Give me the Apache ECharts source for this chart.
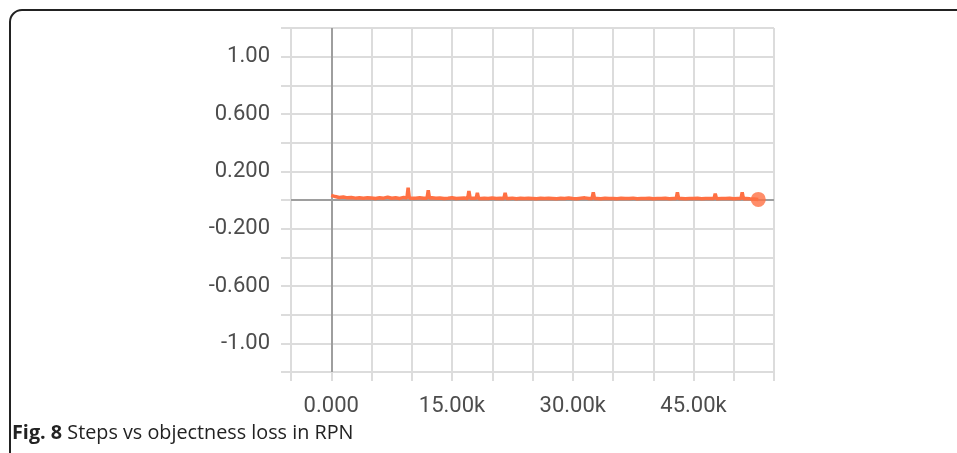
<!DOCTYPE html>
<html>
<head>
<meta charset="utf-8">
<script src="https://cdn.jsdelivr.net/npm/echarts@6/dist/echarts.min.js"></script>
<style>
html,body{margin:0;padding:0;background:#fff;}
#chart{width:957px;height:453px;}
</style>
</head>
<body>
<div id="chart"></div>
<script>
// ---- data ----
var steps = [0,500,1000,1500,2000,2500,3000,3500,4000,4500,5000,5500,6000,6500,7000,7500,8000,8500,9000,9400,9550,9700,10000,10500,11000,11500,11900,12050,12200,12500,13000,13500,14000,14500,15000,15500,16000,16500,16950,17100,17250,17600,18000,18150,18300,18600,19000,19500,20000,20500,21000,21450,21600,21750,22000,22500,23000,23500,24000,24500,25000,25500,26000,26500,27000,27500,28000,28500,29000,29500,30000,30500,31000,31500,32000,32400,32550,32700,33000,33500,34000,34500,35000,35500,36000,36500,37000,37500,38000,38500,39000,39500,40000,40500,41000,41500,42000,42500,42850,43000,43150,43500,44000,44500,45000,45500,46000,46500,47000,47550,47700,47850,48000,48500,49000,49500,50000,50500,50900,51050,51200,51500,52000,52500,53050];
var lossValues = [0.032,0.024,0.018,0.021,0.015,0.017,0.013,0.016,0.012,0.015,0.014,0.011,0.016,0.013,0.020,0.012,0.015,0.011,0.018,0.013,0.085,0.014,0.013,0.012,0.016,0.013,0.012,0.068,0.014,0.015,0.012,0.014,0.011,0.013,0.016,0.010,0.012,0.014,0.011,0.062,0.012,0.013,0.012,0.050,0.011,0.011,0.013,0.010,0.014,0.011,0.012,0.011,0.050,0.011,0.011,0.013,0.009,0.012,0.010,0.013,0.011,0.009,0.012,0.010,0.013,0.011,0.009,0.012,0.010,0.014,0.011,0.009,0.012,0.015,0.010,0.011,0.054,0.010,0.011,0.009,0.012,0.010,0.011,0.009,0.012,0.010,0.011,0.013,0.009,0.011,0.010,0.012,0.009,0.011,0.010,0.012,0.009,0.011,0.010,0.054,0.010,0.010,0.009,0.011,0.010,0.012,0.009,0.010,0.011,0.010,0.044,0.009,0.009,0.011,0.010,0.012,0.009,0.011,0.010,0.054,0.009,0.010,0.008,0.007,0.004];
var xTickValues = [0, 15000, 30000, 45000];
var xTickLabels = ['0.000', '15.00k', '30.00k', '45.00k'];
var yTickValues = [-1.0, -0.6, -0.2, 0.2, 0.6, 1.0];
var yTickLabels = ['-1.00', '-0.600', '-0.200', '0.200', '0.600', '1.00'];
var captionBold = 'Fig. 8';
var captionText = ' Steps vs objectness loss in RPN';

// ---- chart ----
var seriesData = steps.map(function (s, i) { return [s, lossValues[i]]; });
var lastPoint = seriesData[seriesData.length - 1];

function lookup(vals, labels, v) {
  for (var i = 0; i < vals.length; i++) {
    if (Math.abs(vals[i] - v) < 1e-6) return labels[i];
  }
  return '';
}

var gridColor = '#dcdcdc';
var chart = echarts.init(document.getElementById('chart'), null, {renderer: 'canvas'});
chart.setOption({
  animation: false,
  backgroundColor: '#fff',
  grid: {left: 291, right: 183, top: 28, bottom: 81, containLabel: false},
  xAxis: {
    type: 'value', min: -5000, max: 55000, interval: 5000,
    axisLine: {show: false, onZero: false},
    axisTick: {show: true, length: 9, lineStyle: {color: gridColor, width: 2}},
    splitLine: {show: true, lineStyle: {color: gridColor, width: 2}},
    axisLabel: {
      margin: 23, fontSize: 22, color: '#4d4d4d', fontFamily: 'Roboto',
      formatter: function (v) { return lookup(xTickValues, xTickLabels, v); }
    }
  },
  yAxis: {
    type: 'value', min: -1.2, max: 1.2, interval: 0.2,
    axisLine: {show: false, onZero: false},
    axisTick: {show: true, length: 10, lineStyle: {color: gridColor, width: 2}},
    splitLine: {show: true, lineStyle: {color: gridColor, width: 2}},
    axisLabel: {
      margin: 21, fontSize: 22, color: '#4d4d4d', fontFamily: 'Roboto',
      formatter: function (v) { return lookup(yTickValues, yTickLabels, v); }
    }
  },
  series: [
    {
      type: 'line', data: seriesData, showSymbol: false, symbol: 'none', z: 3,
      lineStyle: {color: '#ff7043', width: 3.5},
      markLine: {
        z: 1, silent: true, symbol: ['none', 'none'], label: {show: false},
        lineStyle: {color: '#9e9e9e', type: 'solid', width: 2},
        emphasis: {disabled: true},
        data: [{yAxis: 0}, {xAxis: 0}]
      }
    },
    {
      type: 'scatter', data: [lastPoint], symbol: 'circle', symbolSize: 15, z: 4,
      itemStyle: {color: '#ff7043'}
    }
  ],
  graphic: [
    {
      type: 'rect', shape: {x: 10, y: 10, width: 1000, height: 500, r: [12, 0, 0, 0]},
      style: {fill: 'none', stroke: '#222', lineWidth: 2}, silent: true
    },
    {
      type: 'text', left: 12, top: 423,
      style: {
        rich: {
          b: {fontFamily: 'Open Sans', fontWeight: 'bold', fontSize: 19.8, fill: '#222'},
          n: {fontFamily: 'Open Sans', fontSize: 19.8, fill: '#222'}
        },
        text: '{b|' + captionBold + '}{n|' + captionText + '}'
      }
    }
  ]
});
</script>
</body>
</html>
